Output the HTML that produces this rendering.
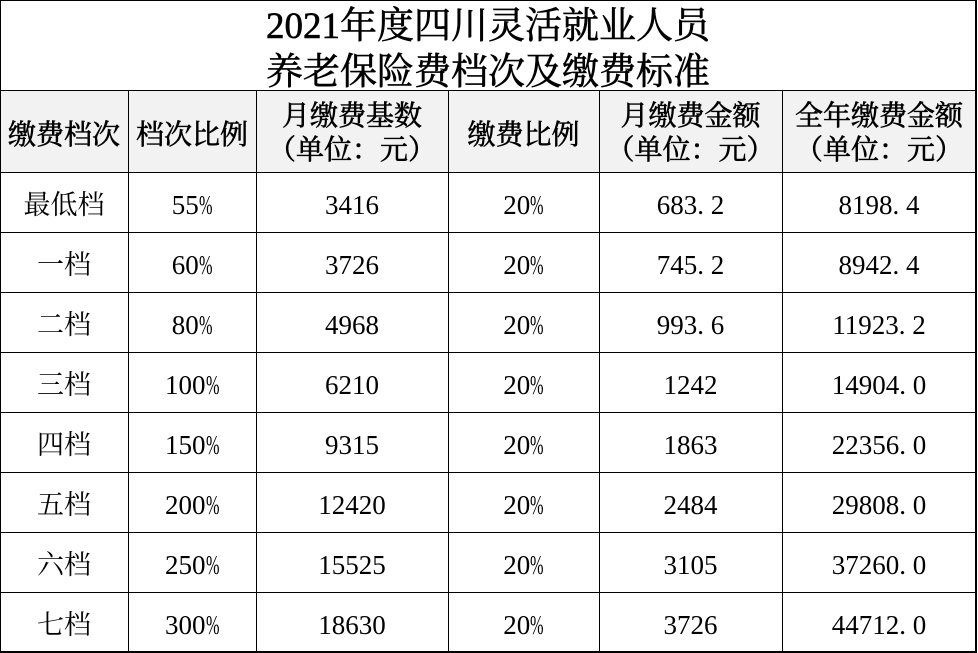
<!DOCTYPE html>
<html><head><meta charset="utf-8">
<style>
html,body{margin:0;padding:0;background:#fff;}
#w{position:relative;width:978px;height:653px;overflow:hidden;background:#fff;
font-family:"Liberation Serif","Noto Serif CJK SC",serif;color:#000;}
.l{position:absolute;background:#000;}
.t{position:absolute;text-align:center;white-space:nowrap;}
.title{font-size:37px;line-height:46px;font-weight:normal;-webkit-text-stroke:0.6px #000;left:0;width:976px;top:3.5px;}
.h{font-size:28px;font-weight:normal;-webkit-text-stroke:0.6px #000;}
.h1{line-height:28px;top:121.5px;}
.h2{line-height:34px;top:99.5px;}
.d{font-size:27px;line-height:27px;}
.p{display:inline-block;width:13.5px;text-align:left;}
.pc{display:inline-block;width:13.5px;text-align:left;}
.pc span{display:inline-block;transform:scaleX(.6);transform-origin:0 50%;}
.c1{left:0;width:128px}.c2{left:128px;width:128px}.c3{left:256px;width:192px}
.c4{left:448px;width:151px}.c5{left:599px;width:183px}.c6{left:782px;width:194px}
</style></head><body><div id="w">
<div class="l" style="left:1px;top:91px;width:975px;height:81px;background:#f2f2f2"></div>
<div class="l" style="left:0;top:0;width:977px;height:1px"></div>
<div class="l" style="left:0;top:0;width:1px;height:653px"></div>
<div class="l" style="left:975px;top:0;width:2px;height:653px"></div>
<div class="l" style="left:0;top:651px;width:977px;height:2px"></div>
<div class="l" style="left:0;top:90px;width:977px;height:1px"></div>
<div class="l" style="left:0;top:172px;width:977px;height:1px"></div>
<div class="l" style="left:0;top:232px;width:977px;height:1px"></div>
<div class="l" style="left:0;top:292px;width:977px;height:1px"></div>
<div class="l" style="left:0;top:352px;width:977px;height:1px"></div>
<div class="l" style="left:0;top:412px;width:977px;height:1px"></div>
<div class="l" style="left:0;top:472px;width:977px;height:1px"></div>
<div class="l" style="left:0;top:532px;width:977px;height:1px"></div>
<div class="l" style="left:0;top:592px;width:977px;height:1px"></div>
<div class="l" style="left:128px;top:90px;width:1px;height:562px"></div>
<div class="l" style="left:256px;top:90px;width:1px;height:562px"></div>
<div class="l" style="left:448px;top:90px;width:1px;height:562px"></div>
<div class="l" style="left:599px;top:90px;width:1px;height:562px"></div>
<div class="l" style="left:782px;top:90px;width:1px;height:562px"></div>

<div class="t title">2021年度四川灵活就业人员<br>养老保险费档次及缴费标准</div>

<div class="t h h1 c1">缴费档次</div>
<div class="t h h1 c2">档次比例</div>
<div class="t h h2 c3">月缴费基数<br>（单位：元）</div>
<div class="t h h1 c4">缴费比例</div>
<div class="t h h2 c5">月缴费金额<br>（单位：元）</div>
<div class="t h h2 c6">全年缴费金额<br>（单位：元）</div>

<div class="t d c1" style="top:192px">最低档</div>
<div class="t d c2" style="top:192px">55<span class="pc"><span>%</span></span></div>
<div class="t d c3" style="top:192px">3416</div>
<div class="t d c4" style="top:192px">20<span class="pc"><span>%</span></span></div>
<div class="t d c5" style="top:192px">683<span class="p">.</span>2</div>
<div class="t d c6" style="top:192px">8198<span class="p">.</span>4</div>

<div class="t d c1" style="top:252px">一档</div>
<div class="t d c2" style="top:252px">60<span class="pc"><span>%</span></span></div>
<div class="t d c3" style="top:252px">3726</div>
<div class="t d c4" style="top:252px">20<span class="pc"><span>%</span></span></div>
<div class="t d c5" style="top:252px">745<span class="p">.</span>2</div>
<div class="t d c6" style="top:252px">8942<span class="p">.</span>4</div>

<div class="t d c1" style="top:312px">二档</div>
<div class="t d c2" style="top:312px">80<span class="pc"><span>%</span></span></div>
<div class="t d c3" style="top:312px">4968</div>
<div class="t d c4" style="top:312px">20<span class="pc"><span>%</span></span></div>
<div class="t d c5" style="top:312px">993<span class="p">.</span>6</div>
<div class="t d c6" style="top:312px">11923<span class="p">.</span>2</div>

<div class="t d c1" style="top:372px">三档</div>
<div class="t d c2" style="top:372px">100<span class="pc"><span>%</span></span></div>
<div class="t d c3" style="top:372px">6210</div>
<div class="t d c4" style="top:372px">20<span class="pc"><span>%</span></span></div>
<div class="t d c5" style="top:372px">1242</div>
<div class="t d c6" style="top:372px">14904<span class="p">.</span>0</div>

<div class="t d c1" style="top:432px">四档</div>
<div class="t d c2" style="top:432px">150<span class="pc"><span>%</span></span></div>
<div class="t d c3" style="top:432px">9315</div>
<div class="t d c4" style="top:432px">20<span class="pc"><span>%</span></span></div>
<div class="t d c5" style="top:432px">1863</div>
<div class="t d c6" style="top:432px">22356<span class="p">.</span>0</div>

<div class="t d c1" style="top:492px">五档</div>
<div class="t d c2" style="top:492px">200<span class="pc"><span>%</span></span></div>
<div class="t d c3" style="top:492px">12420</div>
<div class="t d c4" style="top:492px">20<span class="pc"><span>%</span></span></div>
<div class="t d c5" style="top:492px">2484</div>
<div class="t d c6" style="top:492px">29808<span class="p">.</span>0</div>

<div class="t d c1" style="top:552px">六档</div>
<div class="t d c2" style="top:552px">250<span class="pc"><span>%</span></span></div>
<div class="t d c3" style="top:552px">15525</div>
<div class="t d c4" style="top:552px">20<span class="pc"><span>%</span></span></div>
<div class="t d c5" style="top:552px">3105</div>
<div class="t d c6" style="top:552px">37260<span class="p">.</span>0</div>

<div class="t d c1" style="top:612px">七档</div>
<div class="t d c2" style="top:612px">300<span class="pc"><span>%</span></span></div>
<div class="t d c3" style="top:612px">18630</div>
<div class="t d c4" style="top:612px">20<span class="pc"><span>%</span></span></div>
<div class="t d c5" style="top:612px">3726</div>
<div class="t d c6" style="top:612px">44712<span class="p">.</span>0</div>
</div></body></html>
